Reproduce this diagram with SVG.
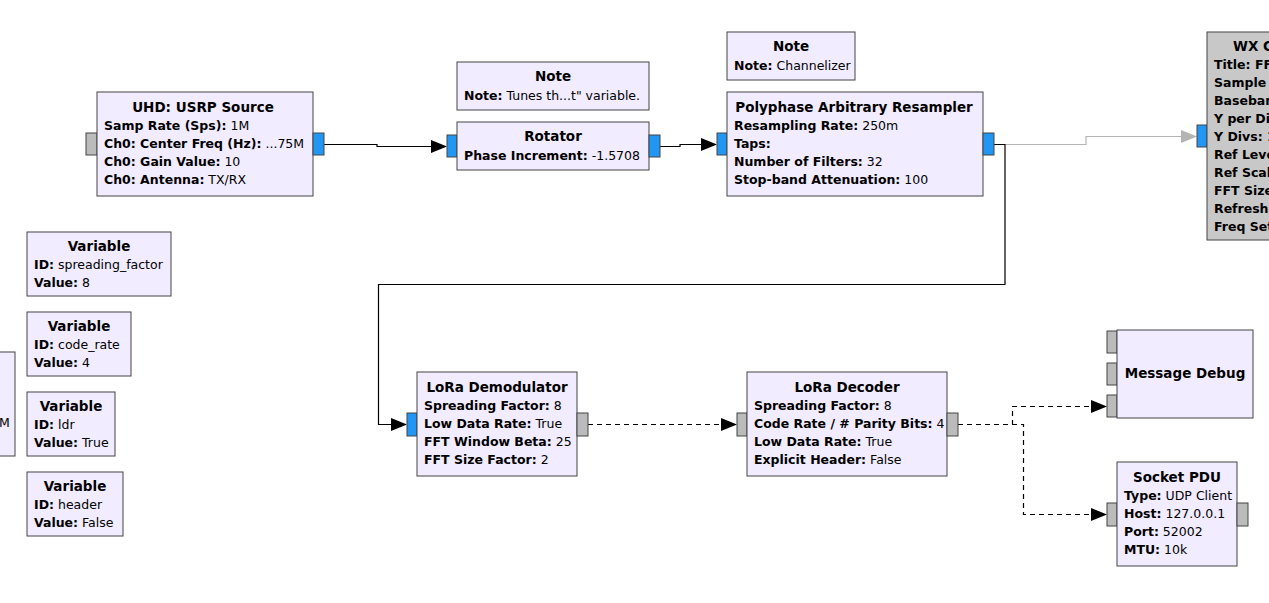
<svg xmlns="http://www.w3.org/2000/svg" width="1269" height="603" viewBox="0 0 1269 603">
<style>
text{font-family:"DejaVu Sans","Liberation Sans",sans-serif;font-size:12.5px;fill:#000}
.t{font-weight:bold;text-anchor:middle;font-size:13.5px}
.k{font-weight:bold}
.b{fill:#f1ecff;stroke:#444;stroke-width:1}
.g{fill:#c8c8c8;stroke:#444;stroke-width:1}
.pb{fill:#2196f3;stroke:#444;stroke-width:1}
.pg{fill:#bbbbbb;stroke:#444;stroke-width:1}
.c{fill:none;stroke:#000;stroke-width:1.2}
.d{stroke-dasharray:5,4}
.cg{fill:none;stroke:#b4b4b4;stroke-width:1.2}
</style>
<rect width="1269" height="603" fill="#fff"/>

<g id="connectors">
<path class="c" d="M324,144.5H377V146.5H432"/>
<polygon points="431,140 447,146.5 431,153"/>
<path class="c" d="M660,146.5H680V144.5H702"/>
<polygon points="701,138 717,144.5 701,151"/>
<path class="cg" d="M994,144.5H1086V136.5H1182"/>
<polygon fill="#b4b4b4" points="1181,130 1197,136.5 1181,143"/>
<path class="c" d="M994,144.5H1005V284.5H378.5V424.5H392"/>
<polygon points="391,418 407,424.5 391,431"/>
<path class="c d" d="M588,424.5H722"/>
<polygon points="721,418 737,424.5 721,431"/>
<path class="c d" d="M958,424.5H1012.5V406.5H1092"/>
<polygon points="1091,400 1107,406.5 1091,413"/>
<path class="c d" d="M958,424.5H1023.5V514.5H1092"/>
<polygon points="1091,508 1107,514.5 1091,521"/>
</g>

<g id="partial_block">
<rect class="b" x="-20" y="352" width="35" height="104"/>
<text x="-1" y="427">M</text>
</g>

<g id="usrp_source">
<rect class="pg" x="86" y="133" width="11" height="22"/>
<rect class="b" x="97" y="92" width="216" height="104"/>
<rect class="pb" x="313" y="133" width="11" height="22"/>
<text class="t" x="203" y="112">UHD: USRP Source</text>
<text x="104" y="130"><tspan class="k">Samp Rate (Sps):</tspan> 1M</text>
<text x="104" y="148"><tspan class="k">Ch0: Center Freq (Hz):</tspan> ...75M</text>
<text x="104" y="166"><tspan class="k">Ch0: Gain Value:</tspan> 10</text>
<text x="104" y="184"><tspan class="k">Ch0: Antenna:</tspan> TX/RX</text>
</g>

<g id="note_rotator">
<rect class="b" x="457" y="62" width="192" height="48"/>
<text class="t" x="553" y="81">Note</text>
<text x="464" y="100"><tspan class="k">Note:</tspan> Tunes th...t" variable.</text>
</g>

<g id="rotator">
<rect class="pb" x="447" y="135" width="10" height="22"/>
<rect class="b" x="457" y="122" width="192" height="48"/>
<rect class="pb" x="649" y="135" width="11" height="22"/>
<text class="t" x="553" y="141">Rotator</text>
<text x="464" y="160"><tspan class="k">Phase Increment:</tspan> -1.5708</text>
</g>

<g id="note_channelizer">
<rect class="b" x="727" y="32" width="128" height="48"/>
<text class="t" x="791" y="51">Note</text>
<text x="734" y="70"><tspan class="k">Note:</tspan> Channelizer</text>
</g>

<g id="resampler">
<rect class="pb" x="717" y="133" width="10" height="22"/>
<rect class="b" x="727" y="92" width="256" height="104"/>
<rect class="pb" x="983" y="133" width="11" height="22"/>
<text class="t" x="854" y="112">Polyphase Arbitrary Resampler</text>
<text x="734" y="130"><tspan class="k">Resampling Rate:</tspan> 250m</text>
<text x="734" y="148"><tspan class="k">Taps:</tspan></text>
<text x="734" y="166"><tspan class="k">Number of Filters:</tspan> 32</text>
<text x="734" y="184"><tspan class="k">Stop-band Attenuation:</tspan> 100</text>
</g>

<g id="wx_fft_sink">
<rect class="pb" x="1197" y="125" width="10" height="22"/>
<rect class="g" x="1207" y="32" width="120" height="208"/>
<text class="k" x="1233" y="51" style="font-size:13.5px">WX G</text>
<text class="k" x="1214" y="69">Title: FF</text>
<text class="k" x="1214" y="87">Sample</text>
<text class="k" x="1214" y="105">Baseban</text>
<text class="k" x="1214" y="123">Y per Di</text>
<text class="k" x="1214" y="141">Y Divs: 1</text>
<text class="k" x="1214" y="159">Ref Leve</text>
<text class="k" x="1214" y="177">Ref Scal</text>
<text class="k" x="1214" y="195">FFT Size</text>
<text class="k" x="1214" y="213">Refresh</text>
<text class="k" x="1214" y="231">Freq Set</text>
</g>

<g id="var_spreading_factor">
<rect class="b" x="27" y="232" width="144" height="64"/>
<text class="t" x="99" y="251">Variable</text>
<text x="34" y="269"><tspan class="k">ID:</tspan> spreading_factor</text>
<text x="34" y="287"><tspan class="k">Value:</tspan> 8</text>
</g>

<g id="var_code_rate">
<rect class="b" x="27" y="312" width="104" height="64"/>
<text class="t" x="79" y="331">Variable</text>
<text x="34" y="349"><tspan class="k">ID:</tspan> code_rate</text>
<text x="34" y="367"><tspan class="k">Value:</tspan> 4</text>
</g>

<g id="var_ldr">
<rect class="b" x="27" y="392" width="88" height="64"/>
<text class="t" x="71" y="411">Variable</text>
<text x="34" y="429"><tspan class="k">ID:</tspan> ldr</text>
<text x="34" y="447"><tspan class="k">Value:</tspan> True</text>
</g>

<g id="var_header">
<rect class="b" x="27" y="472" width="96" height="64"/>
<text class="t" x="75" y="491">Variable</text>
<text x="34" y="509"><tspan class="k">ID:</tspan> header</text>
<text x="34" y="527"><tspan class="k">Value:</tspan> False</text>
</g>

<g id="lora_demod">
<rect class="pb" x="407" y="413" width="10" height="23"/>
<rect class="b" x="417" y="372" width="160" height="104"/>
<rect class="pg" x="577" y="413" width="11" height="23"/>
<text class="t" x="497" y="392">LoRa Demodulator</text>
<text x="424" y="410"><tspan class="k">Spreading Factor:</tspan> 8</text>
<text x="424" y="428"><tspan class="k">Low Data Rate:</tspan> True</text>
<text x="424" y="446"><tspan class="k">FFT Window Beta:</tspan> 25</text>
<text x="424" y="464"><tspan class="k">FFT Size Factor:</tspan> 2</text>
</g>

<g id="lora_decoder">
<rect class="pg" x="737" y="413" width="10" height="23"/>
<rect class="b" x="747" y="372" width="200" height="104"/>
<rect class="pg" x="947" y="413" width="11" height="23"/>
<text class="t" x="847" y="392">LoRa Decoder</text>
<text x="754" y="410"><tspan class="k">Spreading Factor:</tspan> 8</text>
<text x="754" y="428"><tspan class="k">Code Rate / # Parity Bits:</tspan> 4</text>
<text x="754" y="446"><tspan class="k">Low Data Rate:</tspan> True</text>
<text x="754" y="464"><tspan class="k">Explicit Header:</tspan> False</text>
</g>

<g id="message_debug">
<rect class="pg" x="1107" y="331" width="10" height="22"/>
<rect class="pg" x="1107" y="363" width="10" height="22"/>
<rect class="pg" x="1107" y="395" width="10" height="22"/>
<rect class="b" x="1117" y="330" width="136" height="88"/>
<text class="t" x="1185" y="378">Message Debug</text>
</g>

<g id="socket_pdu">
<rect class="pg" x="1107" y="503" width="10" height="23"/>
<rect class="b" x="1117" y="462" width="120" height="104"/>
<rect class="pg" x="1237" y="503" width="11" height="23"/>
<text class="t" x="1177" y="482">Socket PDU</text>
<text x="1124" y="500"><tspan class="k">Type:</tspan> UDP Client</text>
<text x="1124" y="518"><tspan class="k">Host:</tspan> 127.0.0.1</text>
<text x="1124" y="536"><tspan class="k">Port:</tspan> 52002</text>
<text x="1124" y="554"><tspan class="k">MTU:</tspan> 10k</text>
</g>
</svg>
